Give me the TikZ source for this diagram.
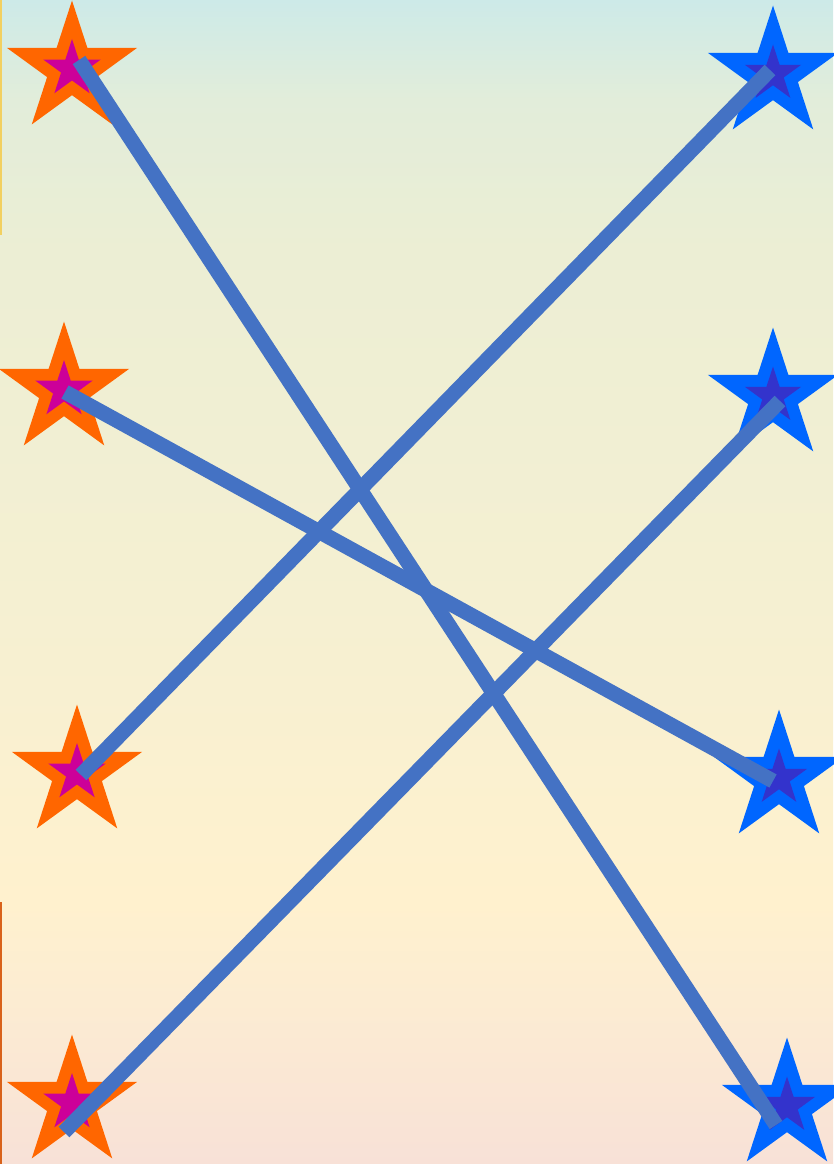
\documentclass[tikz,border=0pt]{standalone}
\usetikzlibrary{shapes.geometric}
\definecolor{bgA}{RGB}{205,234,232}
\definecolor{bgB}{RGB}{226,237,218}
\definecolor{bgC}{RGB}{236,238,212}
\definecolor{bgD}{RGB}{245,240,210}
\definecolor{bgE}{RGB}{255,241,206}
\definecolor{bgF}{RGB}{252,236,210}
\definecolor{bgG}{RGB}{248,225,215}
\definecolor{starorange}{RGB}{255,102,0}
\definecolor{starmagenta}{RGB}{204,0,153}
\definecolor{starblue}{RGB}{0,102,255}
\definecolor{stardeep}{RGB}{51,51,204}
\definecolor{linkblue}{RGB}{68,114,196}
\definecolor{edgeyellow}{RGB}{242,208,96}
\definecolor{edgeorange}{RGB}{217,98,26}
\pgfdeclareverticalshading{bgshade}{100bp}{color(0bp)=(bgG); color(25bp)=(bgG); color(32.04bp)=(bgF); color(36.34bp)=(bgE); color(49.23bp)=(bgD); color(64.26bp)=(bgC); color(70.70bp)=(bgB); color(75bp)=(bgA); color(100bp)=(bgA)}
\begin{document}
\begin{tikzpicture}[x=1pt,y=-1pt,
  starbase/.style={star,star points=5,star point ratio=2.618,inner sep=0pt,outer sep=0pt,draw=none},
  ostarL/.style={starbase,minimum size=137pt,fill=starorange},
  istarL/.style={starbase,minimum size=60pt,fill=starmagenta},
  ostarR/.style={starbase,minimum size=137pt,fill=starblue},
  istarR/.style={starbase,minimum size=59pt,fill=stardeep},
  link/.style={draw=linkblue,line width=15pt,line cap=butt}]
\useasboundingbox (0,0) rectangle (833,1164);
\shade[shading=bgshade] (0,0) rectangle (833,1164);
\draw[edgeyellow,line width=1.5pt] (0.75,0) -- (0.75,235);
\draw[edgeorange,line width=1.5pt] (0.75,902) -- (0.75,1164);
% left stars
\node[ostarL] (L1) at (72,69) {};
\node[istarL] (L1i) at (L1) {};
\node[ostarL] (L2) at (64,390) {};
\node[istarL] (L2i) at (L2) {};
\node[ostarL] (L3) at (77,773) {};
\node[istarL] (L3i) at (L3) {};
\node[ostarL] (L4) at (72,1103) {};
\node[istarL] (L4i) at (L4) {};
% right stars
\node[ostarR] (R1) at (773,74) {};
\node[istarR] (R1i) at (R1) {};
\node[ostarR] (R2) at (773,396) {};
\node[istarR] (R2i) at (R2) {};
\node[ostarR] (R3) at (779,778) {};
\node[istarR] (R3i) at (R3) {};
\node[ostarR] (R4) at (787,1106) {};
\node[istarR] (R4i) at (R4) {};
% connector ends
\coordinate (a1) at (79,60);
\coordinate (b4) at (776,1125);
\coordinate (a2) at (65,392);
\coordinate (b3) at (773,781);
\coordinate (a3) at (81,775);
\coordinate (b1) at (770,70);
\coordinate (a4) at (64,1132);
\coordinate (b2) at (780,401);
\draw[link] (a1) -- (b4);
\draw[link] (a2) -- (b3);
\draw[link] (a3) -- (b1);
\draw[link] (a4) -- (b2);
\end{tikzpicture}
\end{document}
